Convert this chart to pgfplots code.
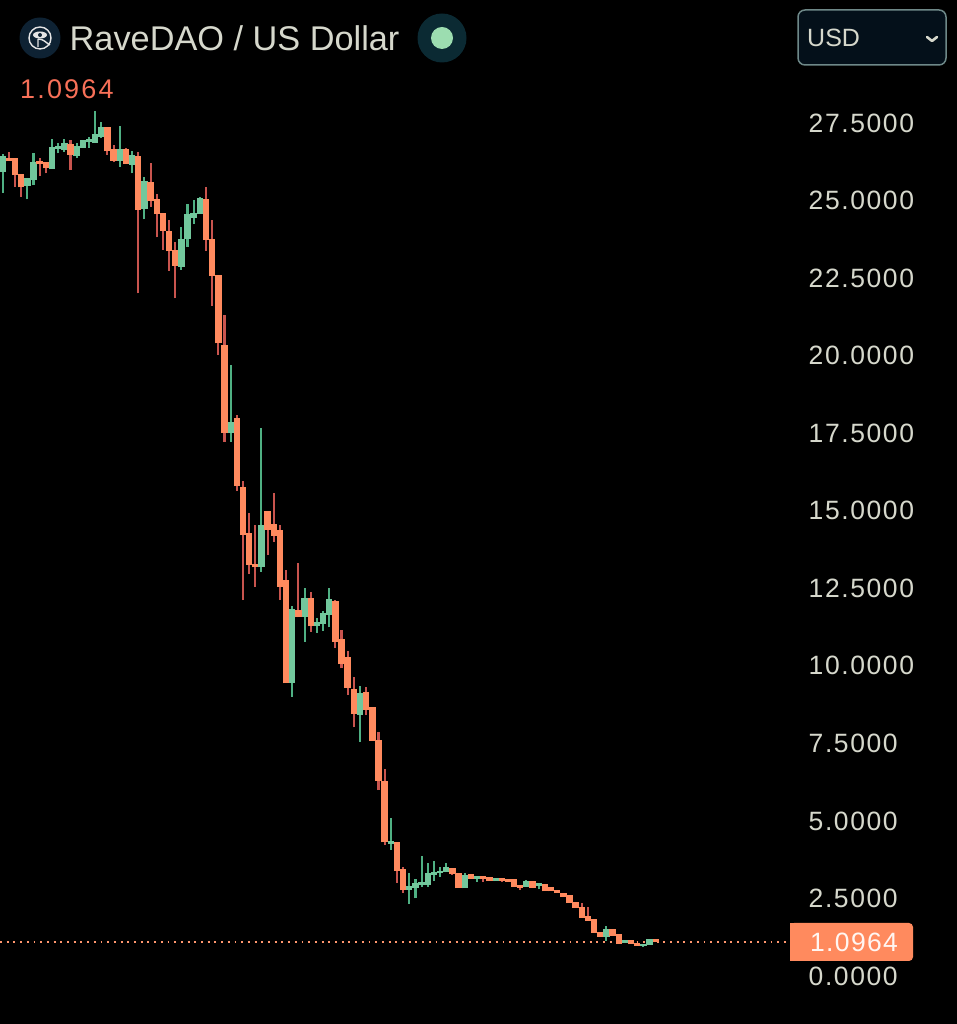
\documentclass[border=0pt]{standalone}
\usepackage{pgfplots}
\usepackage{pgfplotstable}
\usepackage{fontspec}
\setmainfont{Liberation Sans}
\newfontface\tickfont[LetterSpace=6]{Liberation Sans}
\newfontface\lastfont[LetterSpace=8]{Liberation Sans}
\newfontface\boxfont[LetterSpace=5]{Liberation Sans}
\pgfplotsset{compat=1.18}
\definecolor{bodyR}{HTML}{FF8A5E}
\definecolor{bodyG}{HTML}{72C79C}
\definecolor{wickR}{HTML}{C9544E}
\definecolor{wickG}{HTML}{4FB083}
\definecolor{labelc}{HTML}{D6D8CC}
\definecolor{logobg}{HTML}{0E2233}
\definecolor{livebg}{HTML}{0B2A33}
\definecolor{livedot}{HTML}{9CDDB0}
\definecolor{lastc}{HTML}{F87058}
\definecolor{boxbg}{HTML}{04101A}
\definecolor{boxln}{HTML}{6E8888}
\pgfplotstableread{
i top bot hi lo
0 26.414 25.941 26.50 25.253
4 25.715 25.489 25.715 25.038
5 26.22 25.683 26.543 25.5
8 26.715 26.027 26.972 26.027
9 26.725 26.672 26.844 26.521
10 26.844 26.65 26.994 26.575
12 26.736 26.467 26.844 26.382
13 26.919 26.725 26.951 26.704
14 26.951 26.897 27.058 26.704
15 27.112 26.876 27.886 26.876
16 27.338 27.08 27.542 27.005
19 26.629 26.306 27.402 26.091
21 26.435 26.177 26.597 25.876
23 25.608 24.759 25.769 24.393
29 23.727 22.889 24.136 22.76
30 24.533 23.792 24.888 23.512
31 24.587 24.447 25.017 24.243
32 25.071 24.587 25.125 24.587
37 17.849 17.516 19.697 17.215
42 14.517 13.196 17.677 13.034
47 11.82 9.478 11.928 9.005
49 12.164 11.605 12.497 10.778
51 11.391 11.315 11.53 11.068
52 11.67 11.369 11.777 11.133
53 12.143 11.67 12.497 11.24
58 9.091 8.446 9.359 7.554
63 4.33 4.277 5.082 4.062
66 2.88 2.804 3.309 2.321
67 2.987 2.858 3.116 2.503
68 3.019 2.966 3.868 2.88
69 3.309 2.966 3.653 2.88
70 3.331 3.277 3.707 3.073
71 3.374 3.331 3.524 3.202
72 3.492 3.363 3.653 3.342
75 3.245 2.847 3.309 2.847
77 3.202 3.159 3.202 3.041
80 3.127 3.094 3.148 3.062
85 3.03 2.901 3.094 2.88
87 2.966 2.922 2.966 2.794
98 1.483 1.289 1.622 1.139
101 1.139 1.085 1.139 1.085
104 1.021 0.978 1.021 0.945
105 1.16 1.021 1.192 1.0
}\upT
\pgfplotstableread{
i top bot hi lo
1 26.36 26.285 26.575 26.285
2 26.338 25.844 26.338 25.447
3 25.844 25.447 25.844 25.125
6 26.242 26.188 26.382 25.79
7 26.22 26.059 26.22 25.876
11 26.811 26.5 26.951 25.984
17 27.349 26.607 27.349 26.467
18 26.629 26.306 26.79 26.231
20 26.629 26.199 26.682 26.199
22 26.414 24.716 26.575 22.008
24 25.576 25.017 26.22 24.802
25 25.017 24.587 25.21 23.813
26 24.587 24.05 24.587 23.405
27 23.996 23.383 24.372 22.739
28 23.373 22.921 23.673 21.846
33 25.038 23.749 25.447 23.383
34 23.749 22.599 24.372 21.6
35 22.588 20.417 22.588 20.02
36 20.31 17.537 21.309 17.215
38 17.967 15.818 18.085 15.646
39 15.743 14.249 15.957 12.121
40 14.26 13.282 14.915 12.959
41 13.25 13.196 14.528 12.551
43 14.98 14.399 14.98 13.572
44 14.539 14.217 15.56 14.002
45 14.367 12.573 14.539 12.121
46 12.734 9.456 13.088 9.456
48 11.777 11.584 13.303 11.562
50 12.164 11.294 12.39 11.1
54 12.067 10.8 12.121 10.585
55 10.832 10.08 11.154 9.918
56 10.251 9.306 10.477 9.059
57 9.241 8.467 9.628 8.016
59 9.134 8.607 9.327 8.414
60 8.639 7.608 8.639 7.586
61 7.586 6.318 7.876 5.996
62 6.254 4.33 6.662 4.223
64 4.309 3.417 4.309 3.008
65 3.438 2.794 3.524 2.686
73 3.47 3.309 3.492 3.256
74 3.309 2.858 3.309 2.858
76 3.256 3.148 3.277 3.127
78 3.202 3.137 3.202 3.041
79 3.159 3.084 3.159 3.062
81 3.137 3.094 3.137 3.03
82 3.116 3.062 3.116 3.062
83 3.094 2.901 3.094 2.901
84 2.922 2.869 2.922 2.772
86 3.041 2.858 3.041 2.858
88 2.933 2.751 2.933 2.751
89 2.858 2.751 2.858 2.751
90 2.751 2.697 2.751 2.697
91 2.665 2.579 2.665 2.579
92 2.579 2.375 2.579 2.375
93 2.375 2.213 2.375 2.213
94 2.213 1.891 2.342 1.891
95 1.912 1.805 2.213 1.805
96 1.805 1.407 1.805 1.407
97 1.407 1.289 1.407 1.289
99 1.504 1.321 1.504 1.321
100 1.321 1.053 1.321 1.053
102 1.139 1.053 1.139 1.053
103 1.053 0.989 1.053 0.989
106 1.16 1.118 1.16 1.118
}\downT
\newcommand{\candles}[6]{% table, y col, top col, colour, width, padding
  \addplot[draw=none,mark=none,forget plot,
    error bars/.cd,y dir=plus,y explicit,error mark=none,
    error bar style={line width=#5,color=#4,line cap=butt,solid}]
    table[x=i,y expr=\thisrow{#2}-#6,y error plus expr=\thisrow{#3}-\thisrow{#2}+2*#6]{#1};}
\begin{document}
\begin{tikzpicture}[x=1pt,y=1pt]
\useasboundingbox (0,0) rectangle (957,1024);
\fill[black] (0,0) rectangle (957,1024);
\begin{axis}[
  at={(0,0)},anchor=south west,scale only axis,width=790pt,height=1024pt,
  xmin=-0.438,xmax=127.8,ymin=-1.5474,ymax=31.4636,
  axis line style={draw=none},major tick length=0pt,
  xtick=\empty,
  ytick={0,2.5,5,7.5,10,12.5,15,17.5,20,22.5,25,27.5},
  yticklabel pos=right,
  /pgf/number format/assume math mode=true,
  /pgf/number format/fixed,/pgf/number format/fixed zerofill,/pgf/number format/precision=4,
  yticklabel style={font=\tickfont\fontsize{26.5}{26.5}\selectfont,text=labelc,anchor=west,xshift=18.5pt,inner sep=0pt},
  clip=true,
]
\addplot[color=bodyR!90!white,line width=1.7pt,dash pattern=on 1.9pt off 4.8pt,forget plot] coordinates {(-0.438,1.0964) (127.4,1.0964)};
\candles{\upT}{lo}{hi}{wickG}{2.1pt}{0}
\candles{\downT}{lo}{hi}{wickR}{2.1pt}{0}
\candles{\upT}{bot}{top}{bodyG}{6.4pt}{0.025}
\candles{\downT}{bot}{top}{bodyR}{6.4pt}{0.025}
\end{axis}
% header: y measured from the top of the 1024 page
\fill[logobg] (40,986) circle (20.5);
\draw[white!90!black,line width=1.4pt] (40,986) circle (11);
\fill[white!90!black] (40,989) ellipse (7 and 3.5);
\fill[logobg] (40,989) circle (2);
\draw[white!90!black,line width=1.4pt] (38,985) -- (38,977) (38,985) .. controls (44,985) and (46,981) .. (50,979);
\node[anchor=base west,inner sep=0pt,text=labelc] at (69.5,973) {\fontsize{34.3}{34.3}\selectfont RaveDAO / US Dollar};
\fill[livebg] (442,986) circle (24.5);
\fill[livedot] (442,986) circle (11);
\node[anchor=base west,inner sep=0pt,text=lastc] at (20,925) {\lastfont\fontsize{27}{27}\selectfont 1.0964};
\draw[boxln,line width=1.5pt,fill=boxbg,rounded corners=7pt] (798,959) rectangle (946,1014);
\node[anchor=base west,inner sep=0pt,text=labelc] at (807,977) {\fontsize{25}{25}\selectfont USD};
\draw[labelc,line width=2.6pt,line cap=round,line join=round] (927,987) -- (932,983) -- (937,987);
\fill[bodyR,rounded corners=4pt] (790,63) -- (913,63) -- (913,101) -- (790,101) -- cycle;
\fill[bodyR] (790,63) rectangle (800,101);
\node[anchor=base west,inner sep=0pt,text=white!92!bodyR] at (810,72) {\boxfont\fontsize{26.5}{26.5}\selectfont 1.0964};
\end{tikzpicture}
\end{document}
